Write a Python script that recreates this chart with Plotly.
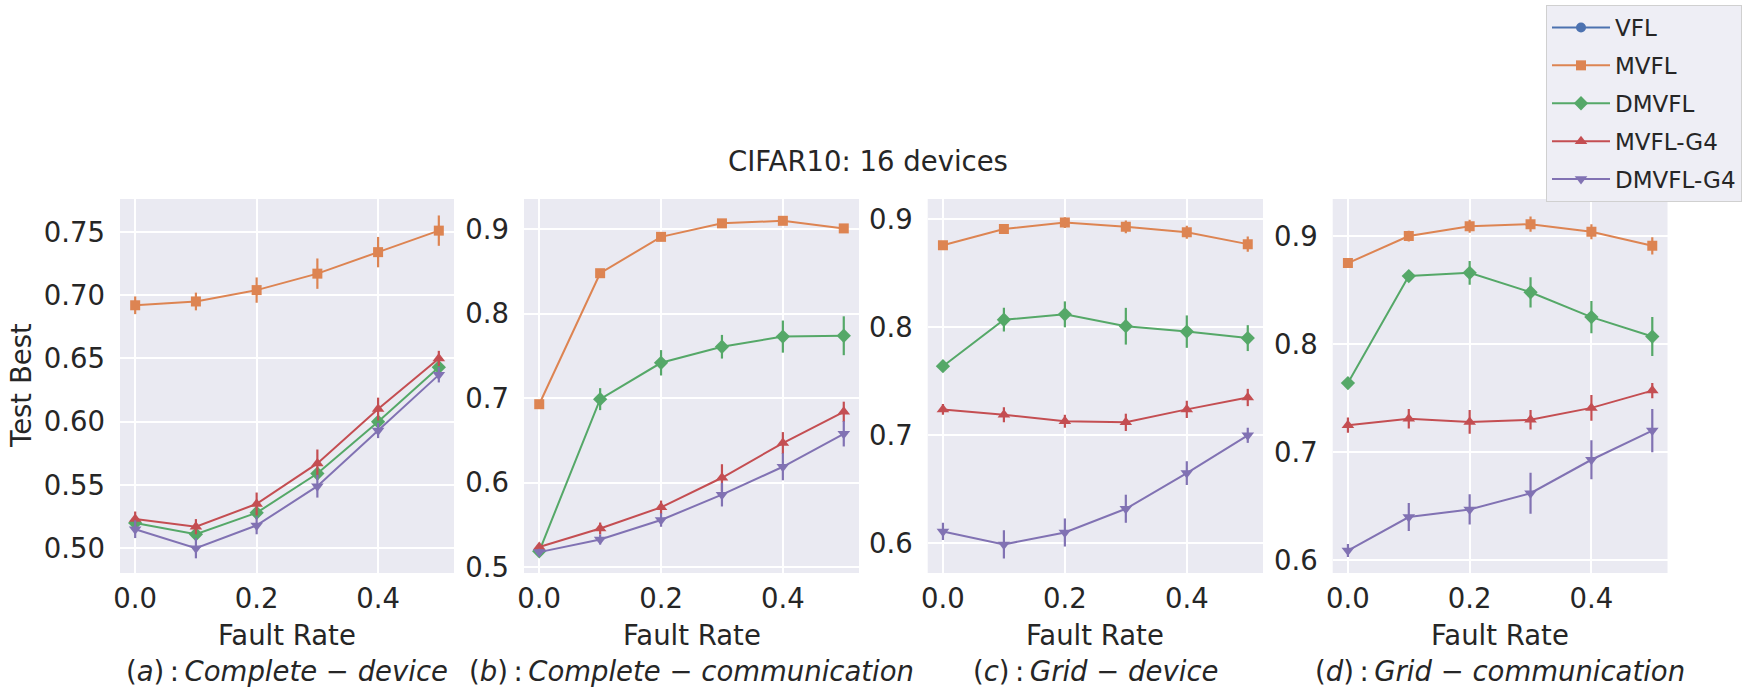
import plotly.graph_objects as go

# ---------------- data ----------------
fault_rate = [0.0, 0.1, 0.2, 0.3, 0.4, 0.5]
series_names = ["VFL", "MVFL", "DMVFL", "MVFL-G4", "DMVFL-G4"]
panel_titles = ["a", "b", "c", "d"]
panel_names = [("Complete", "device"), ("Complete", "communication"),
               ("Grid", "device"), ("Grid", "communication")]

# VFL has no plotted values (legend only)
vfl = [None, None, None, None, None, None]
vfl_err = [0, 0, 0, 0, 0, 0]

# (a) Complete - device
a_mvfl = [0.692, 0.695, 0.704, 0.717, 0.734, 0.751]
a_mvfl_err = [0.007, 0.007, 0.010, 0.012, 0.012, 0.012]
a_dmvfl = [0.520, 0.511, 0.528, 0.559, 0.600, 0.643]
a_dmvfl_err = [0.004, 0.004, 0.005, 0.005, 0.005, 0.005]
a_mvflg4 = [0.523, 0.517, 0.535, 0.567, 0.610, 0.650]
a_mvflg4_err = [0.006, 0.006, 0.009, 0.011, 0.009, 0.006]
a_dmvflg4 = [0.515, 0.500, 0.518, 0.549, 0.593, 0.637]
a_dmvflg4_err = [0.007, 0.008, 0.007, 0.009, 0.006, 0.006]

# (b) Complete - communication
b_mvfl = [0.693, 0.848, 0.891, 0.907, 0.910, 0.901]
b_mvfl_err = [0.002, 0.004, 0.003, 0.004, 0.004, 0.005]
b_dmvfl = [0.519, 0.699, 0.742, 0.761, 0.773, 0.774]
b_dmvfl_err = [0.003, 0.013, 0.015, 0.014, 0.019, 0.023]
b_mvflg4 = [0.524, 0.546, 0.571, 0.606, 0.647, 0.684]
b_mvflg4_err = [0.004, 0.007, 0.008, 0.016, 0.013, 0.012]
b_dmvflg4 = [0.518, 0.533, 0.556, 0.586, 0.619, 0.658]
b_dmvflg4_err = [0.004, 0.006, 0.008, 0.014, 0.016, 0.015]

# (c) Grid - device
c_mvfl = [0.876, 0.891, 0.897, 0.893, 0.888, 0.877]
c_mvfl_err = [0.004, 0.004, 0.005, 0.006, 0.006, 0.007]
c_dmvfl = [0.764, 0.807, 0.812, 0.801, 0.796, 0.790]
c_dmvfl_err = [0.003, 0.011, 0.012, 0.017, 0.015, 0.012]
c_mvflg4 = [0.724, 0.719, 0.713, 0.712, 0.724, 0.735]
c_mvflg4_err = [0.005, 0.007, 0.006, 0.008, 0.008, 0.008]
c_dmvflg4 = [0.611, 0.599, 0.610, 0.632, 0.665, 0.700]
c_dmvflg4_err = [0.008, 0.013, 0.013, 0.013, 0.011, 0.007]

# (d) Grid - communication
d_mvfl = [0.875, 0.900, 0.909, 0.911, 0.904, 0.891]
d_mvfl_err = [0.004, 0.005, 0.006, 0.007, 0.007, 0.008]
d_dmvfl = [0.764, 0.863, 0.866, 0.848, 0.825, 0.807]
d_dmvfl_err = [0.003, 0.005, 0.011, 0.014, 0.015, 0.018]
d_mvflg4 = [0.725, 0.731, 0.728, 0.730, 0.741, 0.757]
d_mvflg4_err = [0.007, 0.009, 0.011, 0.009, 0.012, 0.007]
d_dmvflg4 = [0.609, 0.640, 0.647, 0.662, 0.693, 0.720]
d_dmvflg4_err = [0.006, 0.013, 0.014, 0.019, 0.018, 0.020]

y_ticks_a = [0.50, 0.55, 0.60, 0.65, 0.70, 0.75]
y_ticks_b = [0.5, 0.6, 0.7, 0.8, 0.9]
y_ticks_c = [0.6, 0.7, 0.8, 0.9]
y_ticks_d = [0.6, 0.7, 0.8, 0.9]
x_ticks = [0.0, 0.2, 0.4]

# ---------------- style ----------------
colors = ["#4C72B0", "#DD8452", "#55A868", "#C44E52", "#8172B3"]
symbols = ["circle", "square", "diamond", "triangle-up", "triangle-down"]
msizes = [10, 10, 11, 11, 11]
FONT = "DejaVu Sans"
TXT = "#262626"
FS = 27.5

panels = [
    ([vfl, a_mvfl, a_dmvfl, a_mvflg4, a_dmvflg4],
     [vfl_err, a_mvfl_err, a_dmvfl_err, a_mvflg4_err, a_dmvflg4_err],
     y_ticks_a, [0.4804, 0.776], ".2f"),
    ([vfl, b_mvfl, b_dmvfl, b_mvflg4, b_dmvflg4],
     [vfl_err, b_mvfl_err, b_dmvfl_err, b_mvflg4_err, b_dmvflg4_err],
     y_ticks_b, [0.4933, 0.9358], ".1f"),
    ([vfl, c_mvfl, c_dmvfl, c_mvflg4, c_dmvflg4],
     [vfl_err, c_mvfl_err, c_dmvfl_err, c_mvflg4_err, c_dmvflg4_err],
     y_ticks_c, [0.5725, 0.9188], ".1f"),
    ([vfl, d_mvfl, d_dmvfl, d_mvflg4, d_dmvflg4],
     [vfl_err, d_mvfl_err, d_dmvfl_err, d_mvflg4_err, d_dmvflg4_err],
     y_ticks_d, [0.5882, 0.9343], ".1f"),
]

W, H = 1751, 697
x_domains = [[120 / W, 454 / W], [524 / W, 859 / W],
             [927.7 / W, 1263 / W], [1332.7 / W, 1667.5 / W]]
y_domain = [1 - 573 / H, 1 - 199 / H]

fig = go.Figure()
layout = dict(
    width=W, height=H,
    margin=dict(l=0, r=0, t=0, b=0, pad=0, autoexpand=False),
    paper_bgcolor="white",
    font=dict(family=FONT, size=FS, color=TXT),
    showlegend=True,
)

annotations = []
for i, (ys, errs, yt, yr, fmt) in enumerate(panels):
    xa = "x" if i == 0 else f"x{i+1}"
    ya = "y" if i == 0 else f"y{i+1}"
    for k, name in enumerate(series_names):
        fig.add_trace(go.Scatter(
            x=fault_rate, y=ys[k], name=name,
            mode="lines+markers",
            line=dict(color=colors[k], width=2),
            marker=dict(color=colors[k], symbol=symbols[k], size=msizes[k],
                        line=dict(width=0)),
            error_y=dict(type="data", array=errs[k], visible=True,
                         color=colors[k], thickness=2.2, width=0),
            legendgroup=name, showlegend=(i == 0),
            xaxis=xa, yaxis=ya,
        ))
    xkey = "xaxis" if i == 0 else f"xaxis{i+1}"
    ykey = "yaxis" if i == 0 else f"yaxis{i+1}"
    layout[xkey] = dict(
        domain=x_domains[i], anchor=ya, range=[-0.025, 0.525],
        tickvals=x_ticks, ticktext=[f"{v:.1f}" for v in x_ticks],
        showgrid=True, gridcolor="white", gridwidth=1.5,
        zeroline=False, showline=False, ticks="", automargin=False,
        tickfont=dict(size=FS, color=TXT), ticklabelstandoff=6,
    )
    layout[ykey] = dict(
        domain=y_domain, anchor=xa, range=yr,
        tickvals=yt, ticktext=[format(v, fmt) for v in yt],
        showgrid=True, gridcolor="white", gridwidth=1.5,
        zeroline=False, showline=False, ticks="", automargin=False,
        tickfont=dict(size=FS, color=TXT), ticklabelstandoff=14,
    )
    cx = (x_domains[i][0] + x_domains[i][1]) / 2
    annotations.append(dict(
        text="Fault Rate", x=cx, y=1 - 635 / H, xref="paper", yref="paper",
        xanchor="center", yanchor="middle", showarrow=False,
        font=dict(size=FS, color=TXT, family=FONT)))
    a, b = panel_names[i]
    annotations.append(dict(
        text=f"(<i>{panel_titles[i]}</i>)\u2009:\u2009<i>{a}</i> − <i>{b}</i>",
        x=cx, y=1 - 671 / H, xref="paper", yref="paper",
        xanchor="center", yanchor="middle", showarrow=False,
        font=dict(size=FS, color=TXT, family=FONT)))

annotations.append(dict(
    text="Test Best", x=21 / W, y=(y_domain[0] + y_domain[1]) / 2,
    xref="paper", yref="paper", xanchor="center", yanchor="middle",
    textangle=-90, showarrow=False, font=dict(size=FS, color=TXT, family=FONT)))
annotations.append(dict(
    text="CIFAR10: 16 devices", x=868 / W, y=1 - 161 / H,
    xref="paper", yref="paper", xanchor="center", yanchor="middle",
    showarrow=False, font=dict(size=FS, color=TXT, family=FONT)))

layout["annotations"] = annotations
layout["legend"] = dict(
    x=1546 / W, y=1 - 5 / H, xanchor="left", yanchor="top",
    bgcolor="rgba(238,238,245,1)", bordercolor="#D0D0D0", borderwidth=1,
    font=dict(size=23, color=TXT, family=FONT), itemwidth=58,
    tracegroupgap=5,
)
layout["plot_bgcolor"] = "#EAEAF2"

fig.update_layout(**layout)
fig.write_html(
    "out.html",
    config={"displayModeBar": False},
    post_script="document.body.style.margin='0';document.body.style.overflow='hidden';",
)
